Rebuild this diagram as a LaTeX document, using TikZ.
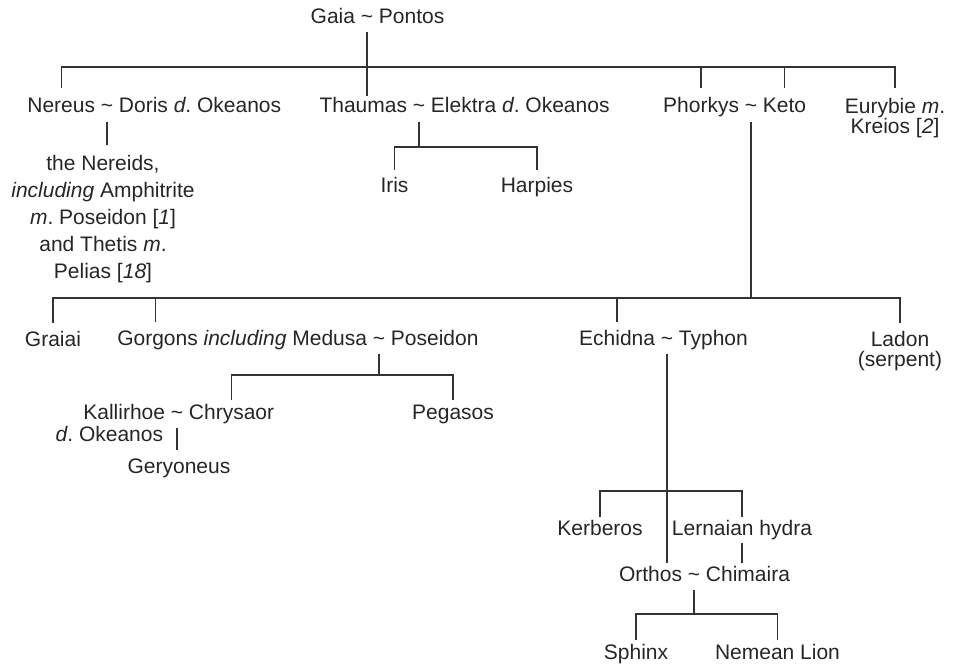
\documentclass[tikz,border=0pt]{standalone}
\usepackage{fontspec}
\setmainfont{Liberation Sans}
\frenchspacing
\begin{document}
\begin{tikzpicture}[x=1pt,y=-1pt,
  lbl/.style={inner sep=0pt, outer sep=0pt, text=black!85, font=\fontsize{21}{27}\selectfont},
  nm/.style={lbl, text height=15pt, text depth=4.5pt, anchor=base},
  tl/.style={nm, inner xsep=5.8pt, outer ysep=4pt},
  lft/.style={nm, anchor=base east},
  rgt/.style={nm, anchor=base west},
  tight/.style={font=\fontsize{21}{20}\selectfont},
  link/.style={draw=black!80, line width=1.3pt},
]
\useasboundingbox (0,0) rectangle (954,669);

% Gaia ~ Pontos
\node[tl] (gaiaT) at (367,24) {\textasciitilde};
\node[lft] (gaia) at (gaiaT.base west) {Gaia};
\node[rgt] (pontos) at (gaiaT.base east) {Pontos};

% first generation
\node[tl] (nerT) at (107,113) {\textasciitilde};
\node[lft, outer ysep=10pt] (nereus) at (nerT.base west) {Nereus};
\node[rgt] (doris) at (nerT.base east) {Doris \textit{d}. Okeanos};
\node[tl] (thaT) at (419,113) {\textasciitilde};
\node[lft, outer ysep=1.5pt] (thaumas) at (thaT.base west) {Thaumas};
\node[rgt] (elektra) at (thaT.base east) {Elektra \textit{d}. Okeanos};
\node[tl] (phoT) at (751,113) {\textasciitilde};
\node[lft, outer ysep=10pt] (phorkys) at (phoT.base west) {Phorkys};
\node[rgt, outer ysep=10pt] (keto) at (phoT.base east) {Keto};
\node[lbl, tight, align=center, anchor=north, outer ysep=10pt] (eurybie) at (895,88)
  {Eurybie \textit{m}.\\Kreios [\textit{2}]};

\coordinate (b0) at (0,67);
\draw[link] (nereus.north) -- (nereus.north |- b0) -| (eurybie.north);
\draw[link] (phorkys.north) -- (phorkys.north |- b0);
\draw[link] (keto.north) -- (keto.north |- b0);
\draw[link] (gaiaT.south) -- (gaiaT.south |- thaumas.north);

% children of Nereus and Doris
\node[lbl, align=center, anchor=north, outer ysep=10pt] (nereids) at (103,145)
  {the Nereids,\\\textit{including} Amphitrite\\\textit{m}. Poseidon [\textit{1}]\\and Thetis \textit{m}.\\Pelias [\textit{18}]};
\draw[link] (nerT.south) -- (nerT.south |- nereids.north);

% children of Thaumas and Elektra
\node[nm, outer ysep=7pt] (iris) at (394.5,192) {Iris};
\node[nm, outer ysep=7pt] (harpies) at (537,192) {Harpies};
\coordinate (b1) at (0,147);
\draw[link] (thaT.south) -- (thaT.south |- b1);
\draw[link] (iris.north) -- (iris.north |- b1) -| (harpies.north);

% children of Phorkys and Keto
\node[nm, outer ysep=8pt] (graiai) at (53,346) {Graiai};
\node[tl] (medT) at (379,345) {\textasciitilde};
\node[lft, outer ysep=8pt] (gorgons) at (medT.base west) {Gorgons \textit{including} Medusa};
\node[rgt] (poseidon) at (medT.base east) {Poseidon};
\coordinate (gorgonsTop) at ([xshift=38pt]gorgons.north west);
\node[tl] (echT) at (667,345) {\textasciitilde};
\node[lft, outer ysep=8pt] (echidna) at (echT.base west) {Echidna};
\node[rgt] (typhon) at (echT.base east) {Typhon};
\node[lbl, tight, align=center, anchor=north, outer ysep=8pt] (ladon) at (900,323)
  {Ladon\\(serpent)};
\coordinate (b2) at (0,298);
\draw[link] (phoT.south) -- (phoT.south |- b2);
\draw[link] (graiai.north) -- (graiai.north |- b2) -| (ladon.north);
\draw[link] (gorgonsTop) -- (gorgonsTop |- b2);
\draw[link] (echidna.north) -- (echidna.north |- b2);

% children of Medusa and Poseidon
\node[tl] (kalT) at (177,419) {\textasciitilde};
\node[lft] (kallirhoe) at (kalT.base west) {Kallirhoe};
\node[rgt, outer ysep=4pt] (chrysaor) at (kalT.base east) {Chrysaor};
\node[nm, anchor=base east] (kallD) at ([xshift=-2pt,yshift=-22pt]kallirhoe.base east) {\textit{d}. Okeanos};
\node[nm, outer ysep=4pt] (pegasos) at (453,419) {Pegasos};
\node[nm, outer ysep=8pt] (geryoneus) at (179,473) {Geryoneus};
\coordinate (b3) at (0,375);
\draw[link] (medT.south) -- (medT.south |- b3);
\draw[link] (chrysaor.north) -- (chrysaor.north |- b3) -| (pegasos.north);
\draw[link] (kalT.south) -- (kalT.south |- geryoneus.north);

% children of Echidna and Typhon
\node[nm, outer ysep=3pt] (kerberos) at (600,535) {Kerberos};
\node[nm, outer ysep=3pt] (hydra) at (742,535) {Lernaian hydra};
\node[tl] (ortT) at (694,581) {\textasciitilde};
\node[lft, outer ysep=3pt] (orthos) at (ortT.base west) {Orthos};
\node[rgt, outer ysep=3pt] (chimaira) at (ortT.base east) {Chimaira};
\coordinate (b4) at (0,491);
\draw[link] (echT.south) -- (echT.south |- orthos.north);
\draw[link] (kerberos.north) -- (kerberos.north |- b4) -| (hydra.north);
\draw[link] (hydra.south) -- (hydra.south |- chimaira.north);

% children of Orthos and Chimaira
\node[nm, outer ysep=4pt] (sphinx) at (636,659) {Sphinx};
\node[nm, outer ysep=4pt] (nemean) at (777.5,659) {Nemean Lion};
\coordinate (b5) at (0,614);
\draw[link] (ortT.south) -- (ortT.south |- b5);
\draw[link] (sphinx.north) -- (sphinx.north |- b5) -| (nemean.north);
\end{tikzpicture}
\end{document}
